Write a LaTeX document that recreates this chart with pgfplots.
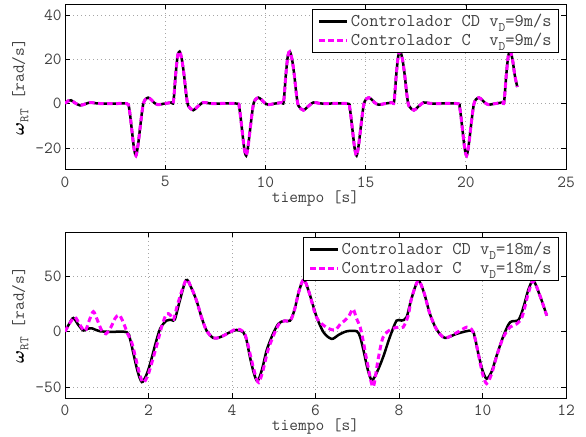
\documentclass[border=0pt]{standalone}
\usepackage{fontspec}
\usepackage{pgfplots}
\pgfplotsset{compat=1.18}
\usepackage{amsmath}
\usepackage{bm}
\definecolor{txt}{RGB}{64,64,64}
\definecolor{mag}{RGB}{255,0,255}
\newcommand{\sub}[1]{\raisebox{-0.6ex}{\fontsize{13}{13}\selectfont #1}}

\pgfplotsset{
  mstyle/.style={
    scale only axis, width=501bp, height=166bp,
    axis line style={line width=1bp, black},
    tick align=inside, major tick length=5bp,
    tick style={black, line width=0.6bp},
    grid=major,
    grid style={gray!70, line width=0.7bp, dash pattern=on 1bp off 3bp},
    /pgf/number format/assume math mode=true,
    ticklabel style={font=\fontsize{17}{20}\ttfamily, text=txt},
    xticklabel style={yshift=-3bp},
    label style={font=\fontsize{17}{20}\ttfamily, text=txt},
    xlabel style={yshift=3bp},
    legend style={font=\fontsize{18}{20}\ttfamily, text=txt, draw=black,
      line width=1bp, at={(1,1)}, anchor=north east, xshift=-7bp, yshift=-5bp,
      inner xsep=5bp, inner ysep=3bp, row sep=1bp},
    legend cell align=left,
    legend image code/.code={\draw[##1] (0bp,0bp) -- (28bp,0bp);},
    xlabel={tiempo [s]},
    ylabel={{\color{black}$\boldsymbol{\omega}$}\sub{RT} [rad/s]},
  },
  cd/.style={black, line width=2.5bp, smooth, tension=0.5},
  cc/.style={mag, line width=3bp, dash pattern=on 5.5bp off 3.5bp, smooth, tension=0.5},
}

\pgfplotstableread{
t w
0 0
0.15 1.2
0.3 1.5
0.5 0.3
0.75 -0.8
1.0 -0.2
1.25 0.5
1.5 0.2
1.8 0
2.5 0
3.08 0
3.20 -2
3.33 -11.5
3.44 -20
3.54 -23.5
3.64 -19
3.74 -11.5
3.84 -4
3.91 0
4.00 1.8
4.15 2.7
4.30 1.8
4.45 0.4
4.64 -0.5
4.90 -0.1
5.30 0.5
5.41 0.8
5.52 13
5.62 21.5
5.72 23.5
5.83 20
5.94 13
6.05 4
6.15 -1
6.40 -3
6.60 -1.5
6.89 0.5
7.14 0.2
7.44 0
8.58 0
8.70 -2
8.83 -11.5
8.94 -20
9.04 -23.5
9.14 -19
9.24 -11.5
9.34 -4
9.41 0
9.50 1.8
9.65 2.7
9.80 1.8
9.95 0.4
10.14 -0.5
10.40 -0.1
10.80 0.5
10.91 0.8
11.02 13
11.12 21.5
11.22 23.5
11.33 20
11.44 13
11.55 4
11.65 -1
11.90 -3
12.10 -1.5
12.39 0.5
12.64 0.2
12.94 0
14.09 0
14.21 -2
14.34 -11.5
14.45 -20
14.55 -23.5
14.65 -19
14.75 -11.5
14.85 -4
14.92 0
15.01 1.8
15.16 2.7
15.31 1.8
15.46 0.4
15.65 -0.5
15.91 -0.1
16.31 0.5
16.42 0.8
16.53 13
16.63 21.5
16.73 23.5
16.84 20
16.95 13
17.06 4
17.16 -1
17.41 -3
17.61 -1.5
17.90 0.5
18.15 0.2
18.45 0
19.58 0
19.70 -2
19.83 -11.5
19.94 -20
20.04 -23.5
20.14 -19
20.24 -11.5
20.34 -4
20.41 0
20.50 1.8
20.65 2.7
20.80 1.8
20.95 0.4
21.14 -0.5
21.40 -0.1
21.80 0.5
21.91 0.8
22.02 13
22.12 21.5
22.22 23.5
22.33 20
22.44 13
22.57 7.5
}\nueve

\pgfplotstableread{
t w
0 0
0.1 7
0.2 12.3
0.32 6
0.44 1
0.54 2.5
0.64 3
0.74 1.5
0.84 0.3
1.1 -0.2
1.48 -0.5
1.56 -7
1.64 -20
1.74 -36
1.84 -45.6
1.94 -40
2.04 -29
2.16 -12
2.28 2.7
2.43 9.9
2.55 10.5
2.63 11
2.75 28
2.9 46.6
3.02 40
3.15 28
3.27 13
3.39 1
3.55 -5.7
3.71 -5.1
3.95 -0.6
4.11 1.5
4.27 -0.6
4.35 -8
4.43 -23
4.52 -37
4.61 -44.7
4.72 -34
4.83 -17
4.97 -3
5.11 7
5.25 9.8
5.39 9.9
5.5 20
5.6 36
5.72 47
5.85 35
6.03 12.9
6.2 -1
6.39 -6.6
6.55 -3
6.75 0.3
6.99 0.3
7.07 -5
7.15 -17
7.25 -34
7.35 -44
7.48 -36
7.62 -23
7.78 -5
7.94 9.9
8.06 10
8.18 12.9
8.3 30
8.46 46
8.6 35
8.74 16
8.9 2
9.1 -5.7
9.38 -2
9.74 0.9
9.82 -6
9.9 -20
10.0 -35
10.1 -42.6
10.22 -36
10.34 -21.6
10.5 -4
10.66 8.4
10.86 10.5
10.98 21.9
11.1 38
11.22 46
11.38 32
11.54 14.4
}\cdocho

\pgfplotstableread{
t w
0 0
0.12 8
0.24 13
0.36 6
0.48 0.5
0.58 10
0.68 18
0.78 10
0.88 1
0.98 -2
1.1 4
1.2 12
1.3 15
1.4 8
1.5 -2
1.6 -10
1.7 -25
1.8 -40
1.88 -46
1.98 -40
2.08 -28
2.2 -12
2.32 5
2.43 16
2.52 15
2.6 11
2.7 25
2.9 46.6
3.02 40
3.15 28
3.27 13
3.39 1
3.55 -5.7
3.71 -5.1
3.95 -0.6
4.11 2.5
4.27 0
4.35 -7
4.45 -23
4.55 -38
4.64 -46
4.75 -34
4.86 -17
5.0 -3
5.13 7
5.27 9.8
5.4 10
5.5 20
5.6 36
5.72 47
5.85 35
6.0 15
6.11 8.4
6.3 3
6.47 1.5
6.6 7
6.7 10
6.8 14
6.9 20.4
6.98 12
7.07 4
7.15 -10
7.25 -30
7.38 -50
7.5 -25
7.62 -5
7.82 2.4
8.0 4
8.1 4
8.22 14.4
8.3 30
8.46 46
8.6 35
8.74 16
8.9 2
9.1 -5.7
9.38 -1
9.62 4
9.74 2
9.82 -6
9.9 -20
10.0 -38
10.1 -47
10.22 -38
10.34 -22
10.5 -5
10.66 4
10.82 7
10.95 13.5
11.1 35
11.22 46
11.38 32
11.54 14.4
}\cocho

\begin{document}
\begin{tikzpicture}
\useasboundingbox (0,0) rectangle (586bp,-437bp);

\begin{axis}[mstyle, at={(65bp,-4bp)}, anchor=north west,
  xmin=0, xmax=25, ymin=-30, ymax=45,
  xtick={0,5,...,25}, ytick={-20,0,20,40}]
\addplot[cd] table[x=t, y=w] {\nueve};
\addlegendentry{Controlador CD v\sub{D}=9m/s}
\addplot[cc] table[x=t, y=w] {\nueve};
\addlegendentry{Controlador C\ \ v\sub{D}=9m/s}
\end{axis}

\begin{axis}[mstyle, at={(65bp,-232bp)}, anchor=north west,
  xmin=0, xmax=12, ymin=-60, ymax=90,
  xtick={0,2,...,12}, ytick={-50,0,50}]
\addplot[cd] table[x=t, y=w] {\cdocho};
\addlegendentry{Controlador CD v\sub{D}=18m/s}
\addplot[cc] table[x=t, y=w] {\cocho};
\addlegendentry{Controlador C\ \ v\sub{D}=18m/s}
\end{axis}
\end{tikzpicture}
\end{document}
